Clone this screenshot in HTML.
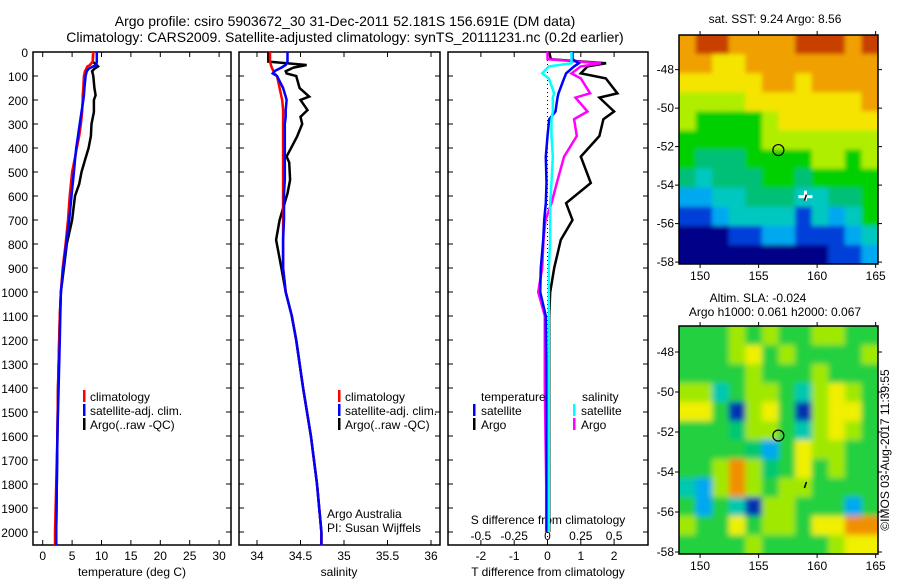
<!DOCTYPE html>
<html><head><meta charset="utf-8">
<style>
html,body{margin:0;padding:0;background:#fff;}
svg{display:block;font-family:"Liberation Sans",sans-serif;}
text{fill:#000;}
</style></head>
<body>
<svg id="c" width="900" height="580" viewBox="0 0 900 580" xmlns="http://www.w3.org/2000/svg">
<defs>
<filter id="blurS" x="-5%" y="-5%" width="110%" height="110%"><feGaussianBlur stdDeviation="2"/></filter>
<filter id="blurL" x="-5%" y="-5%" width="110%" height="110%"><feGaussianBlur stdDeviation="3"/></filter>
<clipPath id="clipS"><rect x="679" y="35" width="199" height="229"/></clipPath>
<clipPath id="clipL"><rect x="679" y="326" width="199" height="228"/></clipPath>
</defs>
<text x="345" y="26" font-size="14" text-anchor="middle">Argo profile: csiro 5903672_30 31-Dec-2011 52.181S 156.691E (DM data)</text>
<text x="345" y="42" font-size="14" text-anchor="middle">Climatology: CARS2009. Satellite-adjusted climatology: synTS_20111231.nc (0.2d earlier)</text>
<g id="g"></g>
</svg>
<script>
// ---------- data ----------
const tDepth=[0,40,55,60,70,80,100,150,180,200,250,300,350,400,450,500,550,600,700,800,900,1000,1100,1200,1400,1600,1800,2000,2055];
const tArgo=[8.6,8.5,9.2,9.4,8.8,8.4,8.6,8.8,9.0,8.7,8.7,8.3,8.2,7.8,7.2,6.6,6.2,5.5,5.0,4.1,3.6,3.1,2.9,2.8,2.6,2.5,2.4,2.3,2.3];
const tClim=[8.6,8.5,8.0,7.6,7.4,7.2,7.0,6.9,6.8,6.8,6.7,6.5,6.2,5.8,5.4,5.0,4.8,4.6,4.3,3.9,3.4,3.1,2.9,2.8,2.6,2.5,2.3,2.1,2.1];
const tSat=[9.2,9.2,9.1,8.6,7.8,7.5,7.3,7.1,7.0,6.9,6.6,6.3,6.0,5.7,5.5,5.3,5.1,4.9,4.5,4.0,3.5,3.1,3.0,2.9,2.7,2.5,2.4,2.3,2.3];
const sDepth=[0,40,54,65,80,89,100,150,186,200,242,270,300,353,436,460,533,589,700,783,900,1000,1100,1200,1400,1600,1800,2000,2055];
const sArgo=[34.13,34.13,34.57,34.42,34.33,34.34,34.45,34.49,34.6,34.5,34.58,34.5,34.52,34.46,34.34,34.37,34.38,34.35,34.26,34.22,34.28,34.33,34.4,34.45,34.53,34.62,34.69,34.74,34.74];
const sClim=[34.15,34.15,34.16,34.17,34.19,34.2,34.23,34.26,34.28,34.29,34.3,34.3,34.3,34.3,34.3,34.3,34.3,34.3,34.3,34.3,34.3,34.33,34.4,34.45,34.53,34.62,34.69,34.74,34.74];
const sSat=[34.35,34.35,34.33,34.28,34.2,34.18,34.23,34.3,34.33,34.34,34.33,34.33,34.32,34.32,34.32,34.32,34.32,34.31,34.31,34.3,34.3,34.33,34.4,34.45,34.53,34.62,34.69,34.74,34.74];
const dDepth=[0,30,47,60,89,110,172,190,248,280,350,436,546,630,700,783,900,1000,1100,1400,1800,2000];
const dTArgo=[0.05,0.1,1.76,1.2,1.0,1.75,2.1,1.56,2.0,1.68,1.56,1.0,1.3,0.56,0.75,0.4,0.2,0.08,0.05,0.05,0.05,0.05];
const dTSat=[0.75,0.75,0.94,0.8,0.56,0.5,0.33,0.3,0.24,0.05,0,-0.05,-0.03,-0.05,-0.1,-0.13,-0.2,-0.22,-0.05,-0.03,-0.02,-0.02];
const dSArgo=[0,0,0.4,0.25,0.18,0.25,0.32,0.21,0.3,0.2,0.22,0.125,0.07,0.03,-0.015,-0.03,-0.04,-0.07,-0.02,-0.02,-0.01,-0.01];
const dSSat=[0.18,0.18,0.18,0.01,-0.04,0.01,0.05,0.04,0.04,0.03,0.03,0.04,0.03,0.02,0.02,0.02,0.01,0.01,0.01,0.01,0.01,0.01];
const depthTicks=[0,100,200,300,400,500,600,700,800,900,1000,1100,1200,1300,1400,1500,1600,1700,1800,1900,2000];
const tempTicks=[0,5,10,15,20,25,30];
const salTicks=[34,34.5,35,35.5,36];
const salTickLabels=["34","34.5","35","35.5","36"];
const tdTicks=[-2,-1,0,1,2];
const sdTicks=[-0.5,-0.25,0,0.25,0.5];
const sdTickLabels=["-0.5","-0.25","0","0.25","0.5"];
const latTicks=[-48,-50,-52,-54,-56,-58];
const lonTicks=[150,155,160,165];
const sstGrid=[
[8,9,9,8,8,8,8,9,9,9,8,9],
[8,8,7,7,8,8,8,8,8,8,8,8],
[7,7,7,7,7,8,8,7,8,8,8,8],
[6,6,6,6,7,7,7,7,7,7,7,8],
[6,5,5,5,5,6,7,7,7,7,7,7],
[5,5,5,5,5,6,6,6,6,6,6,6],
[5,4,4,4,5,5,5,5,6,6,5,6],
[4,3,4,4,4,5,5,4,5,5,5,5],
[2,2,3,3,4,4,4,3,3,4,4,5],
[1,1,2,3,3,3,3,1,3,2,3,5],
[0,0,0,1,1,2,2,1,1,1,2,3],
[0,0,0,0,0,0,0,0,0,1,1,2]];
const slaGrid=[
[5,5,5,6,5,6,5,5,6,6,5,5],
[5,5,5,6,7,5,6,5,5,5,5,6],
[5,5,5,5,6,5,5,5,6,5,5,5],
[6,6,3,5,6,6,5,3,6,7,6,5],
[7,7,5,1,6,7,5,1,6,7,7,5],
[5,5,5,4,6,6,5,3,6,7,6,5],
[5,5,5,5,4,2,5,7,6,6,5,5],
[5,5,6,8,6,4,5,7,5,6,5,5],
[3,2,6,8,6,5,6,6,5,5,5,5],
[5,2,5,3,1,6,6,5,5,5,2,5],
[6,5,5,7,5,6,6,5,7,7,8,8],
[5,5,5,5,6,5,5,5,5,6,7,7]];
const argoPos=[156.69,-52.18];
const crossPos=[159.0,-54.6];

// ---------- helpers ----------
const NS="http://www.w3.org/2000/svg";
const G=document.getElementById('g');
function mk(tag,attrs,parent){const e=document.createElementNS(NS,tag);for(const k in attrs)e.setAttribute(k,attrs[k]);(parent||G).appendChild(e);return e;}
const yD=d=>52+d*0.24;
const xT=t=>42.7+t*5.88;
const xS=s=>257+(s-34)*87;
const xTD=v=>547.5+v*33.3;
const xSD=v=>547.5+v*133.2;
function line(xs,ys,col,w,name){
  const pts=xs.map((x,i)=>x.toFixed(1)+','+ys[i].toFixed(1)).join(' ');
  const p=mk('polyline',{points:pts,fill:'none',stroke:col,'stroke-width':w,'stroke-linejoin':'miter'});
  
  
}
function txt(x,y,s,size,anchor,name){const t=mk('text',{x:x,y:y,'font-size':size,'text-anchor':anchor||'start'});t.textContent=s;
  
  return t;}
function panel(x0,x1,name){
  const r=mk('rect',{x:x0,y:52,width:x1-x0,height:493,fill:'none',stroke:'#000','stroke-width':1.5});
  
  
  depthTicks.forEach(d=>{mk('line',{x1:x0,x2:x0+5,y1:yD(d),y2:yD(d),stroke:'#000'});
    mk('line',{x1:x1,x2:x1-5,y1:yD(d),y2:yD(d),stroke:'#000'});});
}
// panel 1
panel(33,231,'temperature-panel');
depthTicks.forEach(d=>txt(28,yD(d)+5,String(d),12,'end','depth-tick-label'));
tempTicks.forEach(t=>{mk('line',{x1:xT(t),x2:xT(t),y1:545,y2:540,stroke:'#000'});mk('line',{x1:xT(t),x2:xT(t),y1:52,y2:57,stroke:'#000'});txt(xT(t),560,String(t),12,'middle','temperature-tick-label');});
txt(132,576,'temperature (deg C)',12,'middle','temperature-axis-title');
line(tArgo.map(xT),tDepth.map(yD),'#000',2.5,'temperature-argo-line');
line(tClim.map(xT),tDepth.map(yD),'#f00',2.5,'temperature-climatology-line');
line(tSat.map(xT),tDepth.map(yD),'#00f',2.5,'temperature-satellite-line');
[['climatology','#f00'],['satellite-adj. clim.','#00f'],['Argo(..raw -QC)','#000']].forEach((l,i)=>{
  mk('rect',{x:83,y:390+i*14,width:2.5,height:12,fill:l[1]});txt(90,401+i*14,l[0],12,'start','temperature-legend-entry');});
// panel 2
panel(239,440,'salinity-panel');
salTicks.forEach((s,i)=>{mk('line',{x1:xS(s),x2:xS(s),y1:545,y2:540,stroke:'#000'});mk('line',{x1:xS(s),x2:xS(s),y1:52,y2:57,stroke:'#000'});txt(xS(s),560,salTickLabels[i],12,'middle','salinity-tick-label');});
txt(339,576,'salinity',12,'middle','salinity-axis-title');
line(sArgo.map(xS),sDepth.map(yD),'#000',2.5,'salinity-argo-line');
line(sClim.map(xS),sDepth.map(yD),'#f00',2.5,'salinity-climatology-line');
line(sSat.map(xS),sDepth.map(yD),'#00f',2.5,'salinity-satellite-line');
[['climatology','#f00'],['satellite-adj. clim.','#00f'],['Argo(..raw -QC)','#000']].forEach((l,i)=>{
  mk('rect',{x:338,y:390+i*14,width:2.5,height:12,fill:l[1]});txt(345,401+i*14,l[0],12,'start','salinity-legend-entry');});
txt(327,518,'Argo Australia',12,'start','credit-argo-australia');
txt(327,532,'PI: Susan Wijffels',12,'start','credit-pi');
// panel 3
panel(448,648,'difference-panel');
mk('line',{x1:xTD(0),x2:xTD(0),y1:52,y2:545,stroke:'#000','stroke-dasharray':'1,3'});
tdTicks.forEach(t=>{mk('line',{x1:xTD(t),x2:xTD(t),y1:545,y2:540,stroke:'#000'});mk('line',{x1:xTD(t),x2:xTD(t),y1:52,y2:57,stroke:'#000'});txt(xTD(t),560,String(t),12,'middle','t-diff-tick-label');});
sdTicks.forEach((s,i)=>txt(xSD(s),540,sdTickLabels[i],12,'middle','s-diff-tick-label'));
txt(548,524,'S difference from climatology',12,'middle','s-diff-axis-title');
txt(548,576,'T difference from climatology',12,'middle','t-diff-axis-title');
line(dTArgo.map(xTD),dDepth.map(yD),'#000',2.5,'t-diff-argo-line');
line(dSArgo.map(xSD),dDepth.map(yD),'#f0f',2.5,'s-diff-argo-line');
line(dTSat.map(xTD),dDepth.map(yD),'#00f',2.5,'t-diff-satellite-line');
line(dSSat.map(xSD),dDepth.map(yD),'#0ff',2.5,'s-diff-satellite-line');
txt(481,401,'temperature',12,'start','legend-temperature-header');
txt(582,401,'salinity',12,'start','legend-salinity-header');
[['satellite','#00f',473],['Argo','#000',473],['satellite','#0ff',573],['Argo','#f0f',573]].forEach((l,i)=>{
  const r=i%2;mk('rect',{x:l[2],y:404+r*14,width:2.5,height:12,fill:l[1]});txt(l[2]+8,415+r*14,l[0],12,'start','difference-legend-entry');});
// ---------- maps ----------
const palSST=['#000088','#0040d8','#00a8f0','#00c8c0','#00c078','#00d000','#b0ee00','#f4e400','#f0a000','#c84000'];
const palSLA=['#000080','#0030b0','#00a8f0','#00c8b0','#00c870','#20d040','#a0e800','#f0f000','#f09000','#c05000'];
function map(y0,y1,latTop,grid,pal,name,filt,clip){
  const x0=679,x1=878,lonL=148.2,lonR=165.2;
  const xL=lon=>x0+(lon-lonL)*(x1-x0)/(lonR-lonL);
  const yL=lat=>y0+(latTop-lat)*(y1-y0)/(latTop+58.1);
  const nr=grid.length,nc=grid[0].length,cw=(x1-x0)/nc,ch=(y1-y0)/nr;
  const outer=mk('g',{'clip-path':'url(#'+clip+')'});
  const inner=mk('g',{filter:'url(#'+filt+')'},outer);
  mk('rect',{x:x0-10,y:y0-10,width:x1-x0+20,height:y1-y0+20,fill:pal[grid[0][0]]},inner);
  grid.forEach((row,r)=>row.forEach((v,c)=>{
    const ex0=c===0?x0-10:x0+c*cw, ey0=r===0?y0-10:y0+r*ch;
    const ex1=c===nc-1?x1+10:x0+(c+1)*cw+0.6, ey1=r===nr-1?y1+10:y0+(r+1)*ch+0.6;
    const e=mk('rect',{x:ex0.toFixed(2),y:ey0.toFixed(2),width:(ex1-ex0).toFixed(2),height:(ey1-ey0).toFixed(2),fill:pal[v]},inner);
    
    
  }));
  const b=mk('rect',{x:x0,y:y0,width:x1-x0,height:y1-y0,fill:'none',stroke:'#000','stroke-width':1.5});
  
  
  latTicks.forEach(l=>{mk('line',{x1:x0-4,x2:x0,y1:yL(l),y2:yL(l),stroke:'#000'});mk('line',{x1:x1,x2:x1+4,y1:yL(l),y2:yL(l),stroke:'#000'});txt(x0-5,yL(l)+4,String(l),12,'end',name+'-lat-label');});
  lonTicks.forEach(l=>{mk('line',{x1:xL(l),x2:xL(l),y1:y1,y2:y1+4,stroke:'#000'});mk('line',{x1:xL(l),x2:xL(l),y1:y0,y2:y0-4,stroke:'#000'});txt(xL(l),y1+16,String(l),12,'middle',name+'-lon-label');});
  const c=mk('circle',{cx:xL(argoPos[0]),cy:yL(argoPos[1]),r:5.5,fill:'none',stroke:'#000','stroke-width':1.2});
  
  
  return {xL,yL};
}
const m1=map(35,264,-46.2,sstGrid,palSST,'sst-map','blurS','clipS');
mk('rect',{x:m1.xL(crossPos[0])-7,y:m1.yL(crossPos[1])-1.5,width:14,height:3,fill:'#fff'});
mk('rect',{x:m1.xL(crossPos[0])-1.5,y:m1.yL(crossPos[1])-6,width:3,height:10,fill:'#fff'});
mk('line',{x1:m1.xL(crossPos[0])-1,y1:m1.yL(crossPos[1])+4,x2:m1.xL(crossPos[0])+1,y2:m1.yL(crossPos[1])-2,stroke:'#000','stroke-width':1.5});
const m2=map(326,554,-46.7,slaGrid,palSLA,'sla-map','blurL','clipL');
mk('line',{x1:m2.xL(crossPos[0])-1,y1:m2.yL(crossPos[1])+4,x2:m2.xL(crossPos[0])+1,y2:m2.yL(crossPos[1])-2,stroke:'#000','stroke-width':1.5});
txt(775,23,'sat. SST: 9.24 Argo: 8.56',12,'middle','sst-map-title');
txt(758,302,'Altim. SLA: -0.024',12,'middle','sla-map-title');
txt(775,316,'Argo h1000: 0.061 h2000: 0.067',12,'middle','sla-map-subtitle');
const ts=txt(0,0,'©IMOS 03-Aug-2017 11:39:55',12,'middle','timestamp');
ts.setAttribute('transform','translate(889,450) rotate(-90)');
</script>
</body></html>
